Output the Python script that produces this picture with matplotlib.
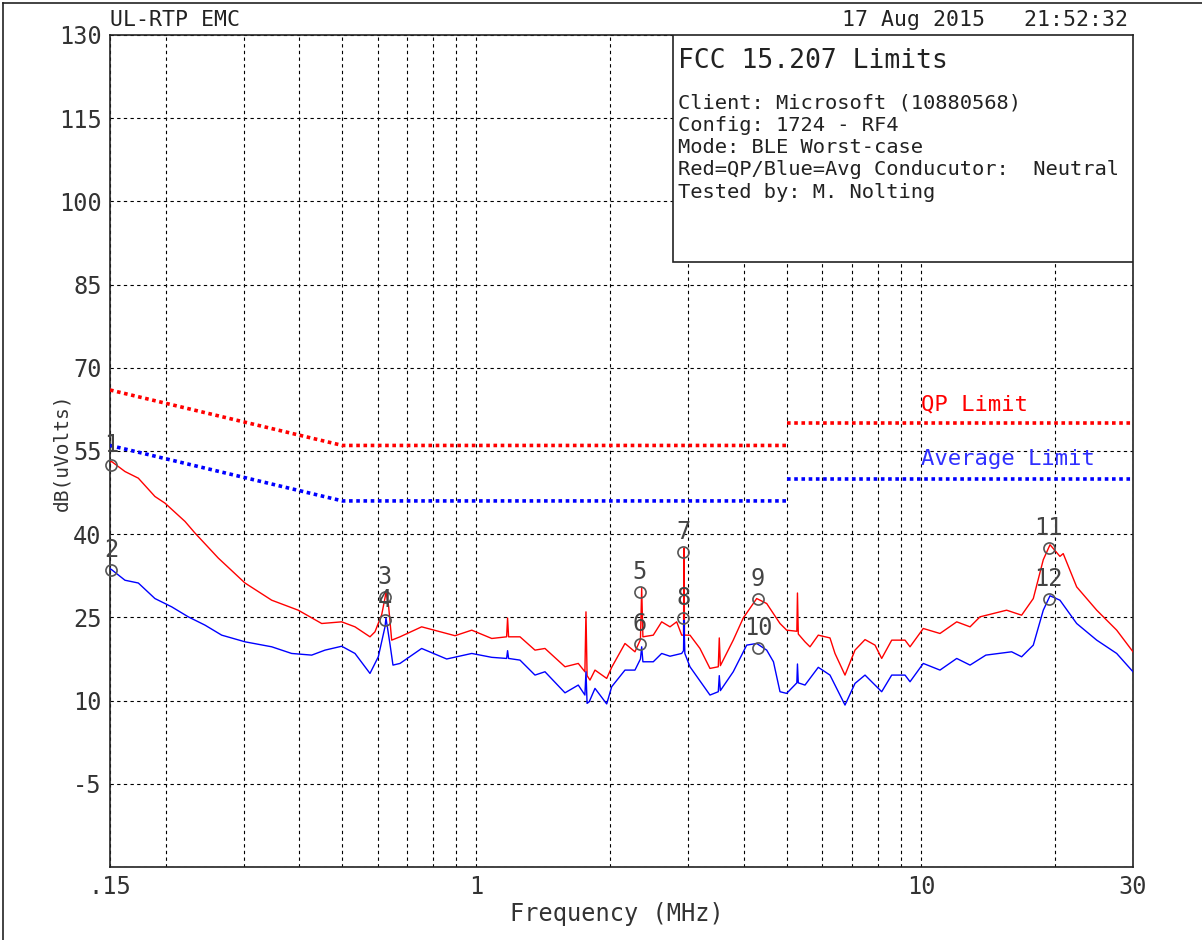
import matplotlib
matplotlib.use("Agg")
import matplotlib.pyplot as plt
from matplotlib.patches import Rectangle
from matplotlib.lines import Line2D

# ---------------- data ----------------
qp_freq = [0.150, 0.1513, 0.1621, 0.1737, 0.1893, 0.1994, 0.2212, 0.2330, 0.2628, 0.3018,
           0.3466, 0.3976, 0.4490, 0.4980, 0.5335, 0.5766, 0.5917, 0.6127, 0.6232, 0.6264,
           0.6350, 0.6452, 0.6736, 0.7535, 0.8956, 0.9767, 1.0834, 1.1700, 1.1759, 1.1820,
           1.2540, 1.3552, 1.4272, 1.5831, 1.6958, 1.7550, 1.7648, 1.7750, 1.8018, 1.8492,
           1.9647, 2.0162, 2.1599, 2.2745, 2.3400, 2.3550, 2.3700, 2.5008, 2.6121, 2.7270,
           2.8231, 2.8974, 2.9250, 2.9316, 2.9400, 3.0242, 3.1848, 3.3543, 3.5019, 3.5200,
           3.5400, 3.7839, 3.9858, 4.2726, 4.5000, 4.8206, 4.9900, 5.2600, 5.2770, 5.3000,
           5.4870, 5.6310, 5.8780, 6.2450, 6.4090, 6.7500, 7.1090, 7.4880, 7.8860, 8.1630,
           8.5980, 9.2110, 9.4530, 10.125, 11.040, 12.040, 12.900, 13.580, 15.590, 16.850,
           17.900, 18.850, 19.520, 20.550, 20.900, 22.410, 24.860, 27.570, 30.000]
qp_db = [53.0, 53.1, 51.3, 50.1, 46.8, 45.6, 42.3, 40.2, 35.7, 31.2,
         28.1, 26.3, 23.9, 24.2, 23.3, 21.5, 22.4, 25.5, 28.5, 29.6,
         27.0, 20.9, 21.5, 23.3, 21.7, 22.7, 21.2, 21.5, 24.9, 21.5,
         21.5, 19.1, 19.4, 16.1, 16.7, 15.2, 26.0, 14.5, 13.7, 15.5,
         14.0, 16.0, 20.3, 18.8, 21.0, 30.3, 21.5, 21.8, 24.2, 23.3,
         24.2, 21.8, 21.8, 37.5, 21.8, 21.8, 19.4, 15.8, 16.1, 21.3,
         16.3, 20.9, 24.9, 28.4, 27.5, 23.9, 22.7, 22.5, 29.4, 22.0,
         20.6, 19.7, 21.8, 21.3, 18.5, 14.6, 19.1, 21.0, 20.0, 17.6,
         20.9, 20.9, 19.7, 23.0, 22.1, 24.2, 23.3, 25.1, 26.3, 25.4,
         28.4, 35.4, 38.1, 36.0, 36.5, 30.5, 26.3, 22.7, 18.8]

avg_freq = [0.150, 0.1513, 0.1621, 0.1737, 0.1893, 0.2065, 0.2250, 0.2454, 0.2675, 0.3018,
            0.3466, 0.3843, 0.4263, 0.4568, 0.4980, 0.5335, 0.5766, 0.6020, 0.6232, 0.6264,
            0.6400, 0.6495, 0.6736, 0.7535, 0.8578, 0.9767, 1.0834, 1.1700, 1.1759, 1.1820,
            1.2540, 1.3552, 1.4272, 1.5831, 1.6958, 1.7550, 1.7648, 1.7750, 1.7950, 1.8492,
            1.9647, 2.0162, 2.1599, 2.2745, 2.3400, 2.3550, 2.3700, 2.5008, 2.6121, 2.7270,
            2.8974, 2.9250, 2.9316, 2.9450, 3.0242, 3.3543, 3.5019, 3.5200, 3.5400, 3.7839,
            4.0569, 4.2726, 4.5000, 4.6600, 4.8206, 4.9900, 5.2600, 5.2770, 5.3000, 5.4870,
            5.8780, 6.2450, 6.7500, 7.1090, 7.4880, 8.1630, 8.5980, 9.2110, 9.4530, 10.125,
            11.040, 12.040, 12.900, 14.000, 16.000, 16.850, 17.900, 18.850, 19.520, 20.550,
            22.410, 24.860, 27.570, 30.000]
avg_db = [33.8, 33.6, 31.7, 31.2, 28.4, 26.9, 25.1, 23.6, 21.8, 20.6,
          19.7, 18.5, 18.2, 19.1, 19.8, 18.5, 14.9, 17.9, 23.3, 24.9,
          20.0, 16.4, 16.7, 19.4, 17.5, 18.5, 17.8, 17.6, 19.0, 17.6,
          17.3, 14.6, 15.2, 11.4, 12.8, 11.0, 15.2, 9.5, 9.8, 12.2,
          9.4, 12.5, 15.5, 15.5, 17.5, 19.7, 17.0, 17.0, 18.5, 18.0,
          18.5, 19.0, 24.5, 18.5, 16.1, 11.0, 11.6, 14.5, 11.8, 15.2,
          20.0, 20.3, 19.1, 17.0, 11.6, 11.3, 13.2, 16.6, 13.2, 12.8,
          16.0, 14.6, 9.2, 13.1, 14.6, 11.6, 14.6, 14.6, 13.4, 16.7,
          15.5, 17.6, 16.4, 18.2, 18.8, 17.9, 20.0, 26.3, 28.9, 28.1,
          23.9, 20.9, 18.5, 15.2]

# limits (two segments each, step at 5 MHz)
qp_lim_freq_a = [0.15, 0.5, 5.0]
qp_lim_db_a = [66, 56, 56]
qp_lim_freq_b = [5.0, 30.0]
qp_lim_db_b = [60, 60]
avg_lim_freq_a = [0.15, 0.5, 5.0]
avg_lim_db_a = [56, 46, 46]
avg_lim_freq_b = [5.0, 30.0]
avg_lim_db_b = [50, 50]

# markers
marker_ids = ["1", "2", "3", "4", "5", "6", "7", "8", "9", "10", "11", "12"]
marker_freq = [0.151, 0.151, 0.623, 0.623, 2.33, 2.33, 2.92, 2.92, 4.30, 4.30, 19.4, 19.4]
marker_db = [52.5, 33.5, 28.6, 24.5, 29.6, 20.2, 36.8, 24.9, 28.3, 19.5, 37.5, 28.4]

x_tick_vals = [0.15, 1, 10, 30]
x_tick_labels = [".15", "1", "10", "30"]
x_minor = [0.2, 0.3, 0.4, 0.5, 0.6, 0.7, 0.8, 0.9, 2, 3, 4, 5, 6, 7, 8, 9, 20]
y_tick_vals = [-20, -5, 10, 25, 40, 55, 70, 85, 100, 115, 130]
y_tick_labels = ["", "-5", "10", "25", "40", "55", "70", "85", "100", "115", "130"]

title_left = "UL-RTP EMC"
title_right = "17 Aug 2015   21:52:32"
box_title = "FCC 15.207 Limits"
box_lines = ["Client: Microsoft (10880568)",
             "Config: 1724 - RF4",
             "Mode: BLE Worst-case",
             "Red=QP/Blue=Avg Conducutor:  Neutral",
             "Tested by: M. Nolting"]

# ---------------- figure ----------------
W, H = 1202, 940
plt.rcParams['font.family'] = ['DejaVu Sans Mono', 'DejaVu Sans']
fig = plt.figure(figsize=(W / 100, H / 100), dpi=100)
fig.patch.set_facecolor("white")

L, R, T, B = 110, 1133, 35, 867
ax = fig.add_axes([L / W, 1 - B / H, (R - L) / W, (B - T) / H])
ax.set_xscale("log")
ax.set_xlim(0.15, 30)
ax.set_ylim(-20, 130)

ax.set_xticks(x_tick_vals)
ax.set_xticklabels(x_tick_labels)
ax.set_xticks(x_minor, minor=True)
ax.set_xticklabels([], minor=True)
ax.set_yticks(y_tick_vals)
ax.set_yticklabels(y_tick_labels)
ax.tick_params(axis="both", which="both", length=0)
ax.tick_params(axis="y", labelsize=17, pad=6, labelcolor="#333333")
ax.tick_params(axis="x", labelsize=17, pad=6, labelcolor="#333333")

grid_kw = dict(color="black", linestyle=(0, (3, 3)), linewidth=0.8)
ax.grid(True, axis="x", which="both", **grid_kw)
ax.grid(True, axis="y", which="major", **grid_kw)
ax.set_axisbelow(True)
for s in ax.spines.values():
    s.set_linewidth(1.2)
    s.set_color("#222222")

# limit lines
lim_kw = dict(linestyle=(0, (1.0, 1.0)), linewidth=2.6, zorder=3)
ax.plot(qp_lim_freq_a, qp_lim_db_a, color="red", **lim_kw)
ax.plot(qp_lim_freq_b, qp_lim_db_b, color="red", **lim_kw)
ax.plot(avg_lim_freq_a, avg_lim_db_a, color="blue", **lim_kw)
ax.plot(avg_lim_freq_b, avg_lim_db_b, color="blue", **lim_kw)

# traces
ax.plot(qp_freq, qp_db, color="red", linewidth=1.0, zorder=4)
ax.plot(avg_freq, avg_db, color="blue", linewidth=1.0, zorder=4)

# limit labels
ax.text(10.0, 63.3, "QP Limit", color="red", fontsize=16, ha="left", va="center")
ax.text(10.0, 53.6, "Average Limit", color="#3030ff", fontsize=16, ha="left", va="center")

# markers
ax.plot(marker_freq, marker_db, linestyle="none", marker="o", markersize=8,
        markerfacecolor="none", markeredgecolor="#555555", markeredgewidth=1.2,
        zorder=6, clip_on=False)
for mid, mf, md in zip(marker_ids, marker_freq, marker_db):
    ax.annotate(mid, (mf, md), xytext=(0, 20), textcoords="offset pixels",
                ha="center", va="center", fontsize=17, color="#444444",
                zorder=7, annotation_clip=False)

# info box
ax.add_patch(Rectangle(((673 - L) / (R - L), (B - 262) / (B - T)),
                       (R - 673) / (R - L), (262 - T) / (B - T),
                       transform=ax.transAxes, facecolor="white",
                       edgecolor="#222222", linewidth=1.2, zorder=8))
fig.text(678 / W, 1 - 61 / H, box_title, fontsize=19, ha="left", va="center",
         color="#222222", zorder=9)
for i, line in enumerate(box_lines):
    fig.text(678 / W, 1 - (103 + 22.3 * i) / H, line, fontsize=14.7, ha="left",
             va="center", color="#222222", zorder=9)

# titles and axis labels
fig.text(110 / W, 1 - 20 / H, title_left, fontsize=15.5, ha="left", va="center", color="#222222")
fig.text(1128 / W, 1 - 20 / H, title_right, fontsize=15.5, ha="right", va="center", color="#222222")
fig.text(617 / W, 1 - 914 / H, "Frequency (MHz)", fontsize=17, ha="center", va="center", color="#333333")
fig.text(62 / W, 1 - 452 / H, "dB(uVolts)", fontsize=14, ha="center", va="center",
         rotation=90, color="#333333")

# outer border (top and left)
fig.add_artist(Line2D([3 / W, 1], [1 - 3 / H, 1 - 3 / H], transform=fig.transFigure,
                      color="#222222", linewidth=1.2))
fig.add_artist(Line2D([3 / W, 3 / W], [0, 1 - 3 / H], transform=fig.transFigure,
                      color="#222222", linewidth=1.2))

fig.savefig("out.png", dpi=100, facecolor="white")
